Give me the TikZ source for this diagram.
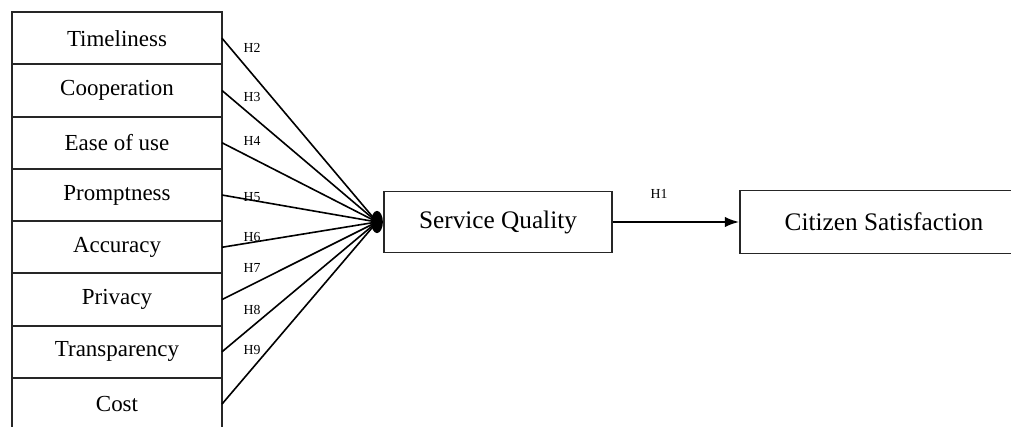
\documentclass[tikz,border=0pt]{standalone}
\usepackage{fontspec}
\setmainfont{Liberation Serif}
\usetikzlibrary{arrows.meta, positioning, shapes.geometric}

\begin{document}
\begin{tikzpicture}[
  x=0.0153cm, y=-0.0153cm,
  factor/.style={rectangle, draw=black!85, line width=0.8pt, outer sep=0pt, inner sep=0pt,
                 minimum width=3.213cm, minimum height=0.8cm,
                 font=\fontsize{10}{12}\selectfont},
  construct/.style={rectangle, draw=black!85, line width=0.8pt,
                    font=\fontsize{11}{13}\selectfont},
  hub/.style={ellipse, fill=black, inner sep=0pt, minimum width=0.18cm, minimum height=0.34cm},
  link/.style={line width=0.7pt},
  hyp/.style={font=\fontsize{6}{7}\selectfont, inner sep=0pt},
  arrow/.style={-{Latex[length=2.2mm, width=1.6mm]}, line width=0.8pt}
]
\useasboundingbox (0,0) rectangle (1011,427);
\clip (0,0) rectangle (1011,427);
\node[factor] (time) at (117,38.2) {Timeliness};
\node[factor, below=0pt of time] (coop) {Cooperation};
\node[factor, below=0pt of coop] (ease) {Ease of use};
\node[factor, below=0pt of ease] (prompt) {Promptness};
\node[factor, below=0pt of prompt] (acc) {Accuracy};
\node[factor, below=0pt of acc] (priv) {Privacy};
\node[factor, below=0pt of priv] (transp) {Transparency};
\node[factor, below=0pt of transp] (cost) {Cost};
\node[hub] (hub) at (377,222) {};
\node[construct, minimum width=3.488cm, minimum height=0.933cm] (sq) at (498,222) {Service Quality};
\node[construct, minimum width=4.406cm, minimum height=0.964cm] (cs) at (884,222) {Citizen Satisfaction};
\draw[link] (time.east) -- (hub.center);
\draw[link] (coop.east) -- (hub.center);
\draw[link] (ease.east) -- (hub.center);
\draw[link] (prompt.east) -- (hub.center);
\draw[link] (acc.east) -- (hub.center);
\draw[link] (priv.east) -- (hub.center);
\draw[link] (transp.east) -- (hub.center);
\draw[link] (cost.east) -- (hub.center);
\draw[arrow] (sq) -- (cs);
\node[hyp] (h2) at (252,48) {H2};
\node[hyp] (h3) at (252,97) {H3};
\node[hyp] (h4) at (252,141) {H4};
\node[hyp] (h5) at (252,197) {H5};
\node[hyp] (h6) at (252,237) {H6};
\node[hyp] (h7) at (252,268) {H7};
\node[hyp] (h8) at (252,310) {H8};
\node[hyp] (h9) at (252,350) {H9};
\node[hyp] (h1) at (659,194) {H1};
\end{tikzpicture}
\end{document}
